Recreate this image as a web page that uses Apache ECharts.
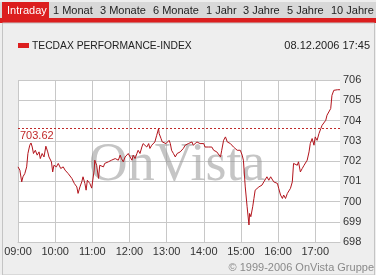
<!DOCTYPE html>
<html>
<head>
<meta charset="utf-8">
<script src="https://cdn.jsdelivr.net/npm/echarts@6/dist/echarts.min.js"></script>
<style>
html,body{margin:0;padding:0;background:#eeeeee;}
#c{width:376px;height:275px;}
</style>
</head>
<body>
<div id="c"></div>
<script>
// ---- data ----
const tabs = ['Intraday','1 Monat','3 Monate','6 Monate','1 Jahr','3 Jahre','5 Jahre','10 Jahre'];
const seriesName = 'TECDAX PERFORMANCE-INDEX';
const dateLabel = '08.12.2006 17:45';
const copyright = '\u00A9 1999-2006 OnVista Gruppe';
const referenceValue = 703.62;
const xTickLabels = ['09:00','10:00','11:00','12:00','13:00','14:00','15:00','16:00','17:00'];
const yTickLabels = [698,699,700,701,702,703,704,705,706];
// minutes after 09:00
const minutesAfterOpen = [0,3,6,8,11,14,16,19,21,23,25,28,31,34,36,39,42,45,48,50,54,56,58,62,65,69,73,76,78,81,87,91,95,97,100,103,105,108,110,112,116,119,123,124,127,130,132,135,138,140,143,146,149,151,154,157,159,162,165,167,170,173,176,178,181,184,186,189,192,194,197,200,202,205,208,211,213,216,219,221,224,227,228,231,233,236,239,241,244,246,248,251,254,257,259,262,265,267,270,273,275,278,281,283,286,289,292,294,297,300,302,305,308,310,313,316,319,321,324,327,329,332,335,338,340,343,346,348,351,354,356,359,362,364,367,370,373,374,376,379,381,383,386,389,391,394,397,400,402,405,408,410,413,416,419,421,424,427,429,432,435,437,440,443,445,448,451,453,456,459,462,464,467,470,472,475,478,480,483,486,489,491,494,497,499,502,505,507,510,516,520];
const indexValues = [701.71,701.55,700.97,701.22,701.38,701.71,702.37,702.78,702.89,702.69,702.37,702.53,702.29,702.45,702.12,702.37,702.20,702.73,702.45,702.20,701.96,701.46,701.79,701.71,701.88,701.63,701.71,701.55,701.63,701.38,701.14,700.89,700.72,700.40,700.72,700.97,701.22,700.89,700.56,701.05,700.89,700.66,701.55,702.04,701.79,701.14,701.79,701.88,701.71,701.88,701.79,701.96,701.88,702.04,701.96,702.12,702.20,702.04,702.29,702.12,701.96,702.20,702.12,702.37,702.20,702.04,702.29,702.12,702.37,702.53,702.37,702.69,702.86,702.94,702.69,702.86,702.62,702.78,702.69,702.94,703.27,703.60,703.35,703.11,702.94,703.02,702.86,702.94,703.02,702.86,702.53,702.37,702.20,702.37,702.29,702.45,702.37,702.62,702.78,702.69,702.86,702.78,702.94,702.78,702.86,702.94,703.02,702.86,702.78,702.86,702.69,702.78,702.69,702.62,702.69,702.53,702.62,702.45,702.37,702.20,702.53,703.02,703.19,702.94,703.02,702.86,702.86,702.69,702.78,702.53,702.45,702.53,702.29,702.04,700.72,699.74,698.84,699.41,699.25,699.74,700.15,700.56,700.48,700.72,700.65,700.81,700.97,701.05,701.22,701.05,701.22,701.14,700.97,701.05,700.89,700.65,700.32,700.15,700.32,700.15,700.40,700.48,700.65,700.97,701.88,701.96,701.79,701.96,701.46,701.63,701.79,701.88,702.04,702.45,702.86,703.11,702.78,703.19,703.02,703.35,703.60,703.76,703.85,704.01,704.26,704.17,704.59,705.24,705.49,705.52,705.52];

// ---- chart ----
const RED = '#dc1e1e';
const LINE = '#b3141c';
const FONT = '"Liberation Sans", Arial, sans-serif';
const chart = echarts.init(document.getElementById('c'), null, {renderer:'canvas'});
const data = minutesAfterOpen.map((m,i)=>[m, indexValues[i]]);
const tabX = [7,53,100,153,206,243,287,331];

const graphics = [
  {type:'rect', shape:{x:0,y:2,width:376,height:17}, style:{fill:'#d8d8d8'}, z:-10},
  {type:'rect', shape:{x:2,y:2,width:47,height:17}, style:{fill:RED}, z:-9},
  {type:'rect', shape:{x:0,y:18,width:376,height:5}, style:{fill:RED}, z:-9},
  {type:'rect', shape:{x:2.5,y:23,width:372,height:252}, style:{fill:'none',stroke:'#c4c4c4',lineWidth:1}, z:-8},
  {type:'rect', shape:{x:18,y:43,width:11,height:5}, style:{fill:RED}},
  {type:'text', x:32, y:46, style:{text:seriesName, font:'10.3px '+FONT, fill:'#222', verticalAlign:'middle'}},
  {type:'text', x:370, y:46, style:{text:dateLabel, font:'11px '+FONT, fill:'#222', align:'right', verticalAlign:'middle'}},
  {type:'text', x:374, y:268, style:{text:copyright, font:'11px '+FONT, fill:'#8a8a8a', align:'right', verticalAlign:'middle'}},
  {type:'text', x:177, y:166, z:1, style:{text:'OnVista', font:'54px "Liberation Serif", "Times New Roman", serif', fill:'rgba(150,150,150,0.55)', align:'center', verticalAlign:'middle'}}
];
tabs.forEach((t,i)=>{
  graphics.push({type:'text', x:tabX[i], y:11, style:{text:t, font:'11px '+FONT, fill: i===0 ? '#ffffff' : '#222', verticalAlign:'middle'}});
});

chart.setOption({
  animation:false,
  backgroundColor:'#eeeeee',
  grid:{left:18, right:36, top:80, bottom:33, show:true, backgroundColor:'#ffffff', borderWidth:0},
  xAxis:{
    type:'value', min:0, max:520, interval:60,
    axisLine:{show:true, lineStyle:{color:'#c8c8c8'}},
    axisTick:{show:false},
    axisLabel:{margin:4, color:'#333', fontSize:11, fontFamily:FONT, showMaxLabel:false,
      formatter:v=> (v%60===0 && v/60 < xTickLabels.length) ? xTickLabels[v/60] : ''},
    splitLine:{show:true, showMaxLine:false, lineStyle:{color:'#c8c8c8'}}
  },
  yAxis:{
    type:'value', position:'right', min:698, max:706, interval:1,
    axisLine:{show:false}, axisTick:{show:false},
    axisLabel:{margin:3, color:'#333', fontSize:11, fontFamily:FONT,
      formatter:v=> String(yTickLabels[Math.round(v-698)])},
    splitLine:{show:true, lineStyle:{color:'#c8c8c8'}}
  },
  series:[{
    type:'line', data:data, showSymbol:false, z:3,
    lineStyle:{color:LINE, width:1},
    markLine:{
      silent:true, symbol:['none','none'],
      lineStyle:{color:'#c02a2a', type:[2,2], width:1},
      label:{show:true, position:'insideStartBottom', formatter:String(referenceValue), color:'#c02a2a', fontSize:11, fontFamily:FONT, distance:[2,2]},
      data:[{yAxis:referenceValue}]
    }
  }],
  graphic:graphics
});
</script>
</body>
</html>
